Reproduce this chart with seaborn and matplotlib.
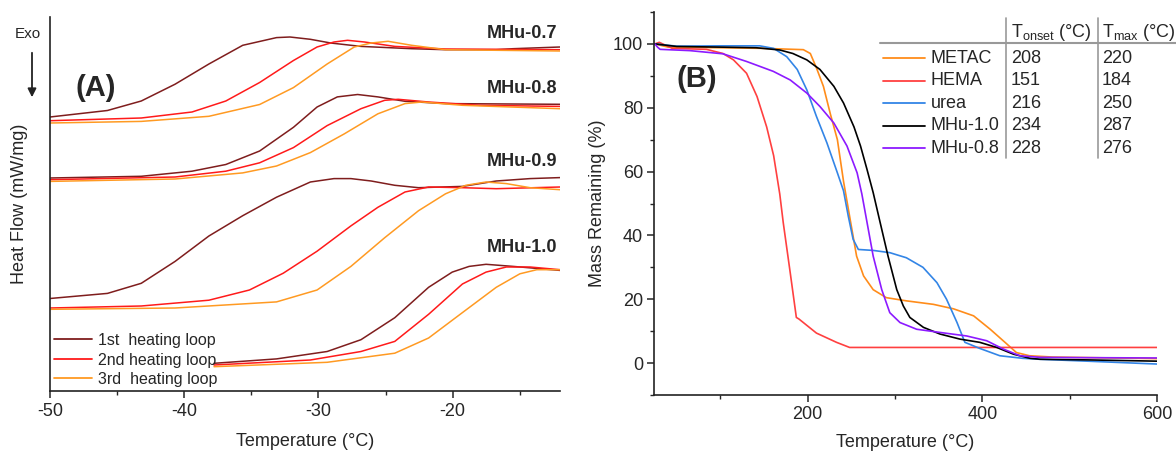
import numpy as np
import matplotlib
matplotlib.use("Agg")
import matplotlib.pyplot as plt
from matplotlib.lines import Line2D
from matplotlib.ticker import MultipleLocator
import seaborn as sns
import pandas as pd

# ---------------- panel A: DSC heating loops (arbitrary heat flow units) ----------------
loops = ["1st  heating loop", "2nd heating loop", "3rd  heating loop"]
loop_colors = ["#7f1d1d", "#ff1a1a", "#ff9a22"]

mhu07_t = [
    [-50, -45.72, -43.2, -40.68, -38.16, -35.64, -33.12, -32.12, -30.6, -29.09, -26.83, -23.05, -20.53, -16.75, -15.49, -12],
    [-50, -43.2, -39.42, -36.9, -34.38, -31.86, -30.1, -28.84, -27.83, -26.57, -24.31, -20.53, -12],
    [-50, -43.2, -38.16, -34.38, -31.86, -29.35, -27.33, -26.07, -24.81, -23.05, -20.53, -12],
]
mhu07_hf = [
    [27.4, 28.05, 29.0, 30.68, 32.7, 34.57, 35.34, 35.4, 35.17, 34.8, 34.46, 34.23, 34.13, 34.13, 34.23, 34.4],
    [27.03, 27.3, 27.9, 29.0, 30.85, 33.05, 34.4, 34.9, 35.07, 34.9, 34.46, 34.2, 34.13],
    [26.8, 26.96, 27.47, 28.65, 30.34, 32.7, 34.4, 34.8, 34.97, 34.57, 34.13, 34.0],
]
mhu08_t = [
    [-50, -43.2, -39.42, -36.9, -34.38, -31.86, -30.1, -28.59, -27.08, -25.57, -23.55, -20.53, -12],
    [-50, -40.68, -36.9, -34.38, -31.86, -29.35, -26.83, -25.06, -24.06, -21.79, -18.01, -12],
    [-50, -40.68, -35.64, -33.12, -30.6, -28.09, -25.57, -23.55, -22.29, -19.27, -12],
]
mhu08_hf = [
    [21.3, 21.47, 21.98, 22.65, 24.0, 26.37, 28.4, 29.41, 29.65, 29.41, 28.97, 28.74, 28.67],
    [21.13, 21.4, 21.98, 22.82, 24.34, 26.54, 28.23, 29.07, 29.17, 28.9, 28.57, 28.46],
    [20.96, 21.2, 21.81, 22.5, 23.84, 25.7, 27.72, 28.74, 28.9, 28.57, 28.23],
]
mhu09_t = [
    [-50, -45.72, -43.2, -40.68, -38.16, -35.64, -33.12, -30.6, -28.84, -27.58, -26.07, -24.31, -22.54, -19.27, -16.75, -14.23, -12],
    [-50, -43.2, -38.16, -35.14, -32.62, -30.1, -27.58, -25.57, -23.55, -21.79, -19.27, -16.75, -12],
    [-50, -40.68, -33.12, -30.1, -27.58, -25.06, -22.54, -20.53, -19.02, -17.51, -16.0, -14.23, -12],
]
mhu09_hf = [
    [9.25, 9.76, 10.77, 12.96, 15.5, 17.53, 19.38, 20.9, 21.24, 21.24, 21.0, 20.57, 20.33, 20.46, 21.0, 21.24, 21.34],
    [8.3, 8.5, 9.08, 10.1, 11.78, 13.98, 16.51, 18.37, 19.9, 20.4, 20.33, 20.23, 20.4],
    [8.17, 8.3, 8.91, 10.1, 12.46, 15.33, 18.03, 19.72, 20.57, 20.9, 20.74, 20.33, 20.13],
]
mhu10_t = [
    [-37.78, -33.12, -29.35, -26.83, -24.31, -21.79, -20.03, -18.77, -17.51, -15.49, -12],
    [-37.78, -30.6, -26.83, -24.31, -21.79, -19.27, -17.51, -16.0, -14.23, -12],
    [-37.78, -29.35, -24.31, -21.79, -19.27, -16.75, -14.99, -13.73, -12],
]
mhu10_hf = [
    [2.77, 3.21, 3.95, 5.13, 7.33, 10.37, 11.89, 12.46, 12.67, 12.46, 12.06],
    [2.6, 3.1, 3.95, 4.96, 7.67, 10.7, 11.89, 12.4, 12.4, 12.13],
    [2.43, 2.87, 3.78, 5.3, 7.84, 10.37, 11.72, 12.13, 12.13],
]
samples = ["MHu-0.7", "MHu-0.8", "MHu-0.9", "MHu-1.0"]
sample_label_y = [35.8, 30.3, 23.0, 14.4]

# ---------------- panel B: TGA ----------------
tga_names = ["METAC", "HEMA", "urea", "MHu-1.0", "MHu-0.8"]
tga_colors = ["#ff8c1a", "#ff4040", "#3385e6", "#000000", "#8c1aff"]
t_onset = [208, 151, 216, 234, 228]
t_max = [220, 184, 250, 287, 276]

metac_t = [25, 40, 100, 150, 195, 203, 210, 218, 226, 234, 241, 248, 256, 264, 275, 290, 313, 344, 367, 390, 409, 428, 439, 454, 480, 550, 600]
metac_m = [100, 99, 98.8, 98.6, 98.2, 97, 92.5, 86.7, 78, 70, 57, 46, 33.5, 27.3, 23, 20.5, 19.5, 18.4, 17, 14.8, 10.6, 6, 3.3, 2.3, 1.9, 1.6, 1.4]
hema_t = [25, 30, 45, 84, 103, 115, 130, 142, 153, 161, 168, 172, 180, 187, 190, 195, 210, 233, 248, 600]
hema_m = [100, 100.5, 98.6, 98.3, 97, 95, 90.8, 83.5, 74, 65, 53, 44, 28.3, 14.3, 13.8, 12.7, 9.4, 6.5, 4.9, 4.9]
urea_t = [25, 50, 100, 145, 161, 176, 188, 199, 210, 222, 234, 241, 246.5, 252, 258, 275, 294, 313, 332, 348, 359, 371, 380, 397, 420, 446, 465, 520, 600]
urea_m = [100, 99.3, 99.4, 99.4, 98.6, 96, 92, 85.6, 77.3, 69, 59.6, 54, 46, 38.8, 35.6, 35.3, 34.6, 33, 30, 25.2, 20, 12.7, 6.5, 4.6, 2.3, 1.5, 1.2, 0.6, -0.3]
mhu10_tga_t = [25, 50, 100, 141, 168, 183, 199, 214, 230, 241, 253, 260.5, 268, 275, 283, 292, 302, 309.5, 317, 332.5, 351.5, 374.5, 397, 416.5, 435.5, 454.6, 466, 520, 600]
mhu10_tga_m = [100, 99.2, 99, 98.8, 98.1, 97, 95, 92, 86.7, 81.5, 74, 68, 60.6, 53.4, 44, 33.5, 23, 17.9, 14.3, 11.2, 9.1, 7.5, 6.5, 4.9, 2.8, 1.5, 1.2, 1.0, 0.6]
mhu08_tga_t = [25, 28, 31, 65, 103, 130, 160.6, 180, 199, 214, 230, 245, 256.6, 262, 268, 275, 284.8, 294, 305.7, 324.8, 351.5, 382, 405, 424, 443, 466, 520, 600]
mhu08_tga_m = [100, 99, 98.3, 97.9, 96.9, 94.5, 91.4, 88.7, 84.6, 80.4, 75.2, 68, 59.6, 53, 44, 33.5, 23, 15.8, 12.7, 10.6, 9.6, 8.5, 7, 4.4, 2.3, 1.8, 1.7, 1.6]

W, H = 1176, 454


def fx(px):
    return px / W


def fy(py):
    return 1 - py / H


sns.set_style("ticks")
plt.rcParams["font.family"] = ["Liberation Sans", "DejaVu Sans"]
plt.rcParams["mathtext.default"] = "regular"
plt.rcParams["axes.unicode_minus"] = False
plt.rcParams["axes.edgecolor"] = "#222222"
plt.rcParams["axes.linewidth"] = 1.2

fig = plt.figure(figsize=(W / 100, H / 100), dpi=100)
ax1 = fig.add_axes([fx(50), fy(391), (560 - 50) / W, (391 - 17) / H])
ax2 = fig.add_axes([fx(654), fy(395), (1157 - 654) / W, (395 - 12) / H])

# ---- panel A
groups = [(mhu07_t, mhu07_hf), (mhu08_t, mhu08_hf), (mhu09_t, mhu09_hf), (mhu10_t, mhu10_hf)]
for ts, hfs in groups:
    for k in range(3):
        sns.lineplot(x=ts[k], y=hfs[k], color=loop_colors[k], lw=1.1, sort=False,
                     estimator=None, ax=ax1)
for name, yy in zip(samples, sample_label_y):
    ax1.text(-12.2, yy, name, ha="right", va="center", fontsize=13, fontweight="bold")

ax1.set_xlim(-50, -12)
ax1.set_ylim(0, 37.4)
ax1.set_yticks([])
ax1.xaxis.set_major_locator(MultipleLocator(10))
ax1.xaxis.set_minor_locator(MultipleLocator(5))
ax1.tick_params(axis="x", which="major", length=5, width=1.1, labelsize=13, pad=4)
ax1.tick_params(axis="x", which="minor", length=3, width=1.0)
ax1.set_xlabel("Temperature (°C)", fontsize=13, labelpad=9)
ax1.set_ylabel("Heat Flow (mW/mg)", fontsize=13)
ax1.yaxis.set_label_coords(-0.043, 0.5)
sns.despine(ax=ax1)
handles = [Line2D([], [], color=c, lw=1.3) for c in loop_colors]
ax1.legend(handles, loops, loc="lower left", bbox_to_anchor=(0, 0), frameon=False,
           fontsize=11.5, handlelength=2.4, handletextpad=0.35, labelspacing=0.28,
           borderaxespad=0.0, borderpad=0.25)
ax1.text(0.05, 0.81, "(A)", transform=ax1.transAxes, fontsize=21, fontweight="bold",
         ha="left", va="center")
fig.text(fx(28), fy(34), "Exo", fontsize=11, ha="center", va="center")
fig.add_artist(matplotlib.patches.FancyArrowPatch(
    (fx(32), fy(50)), (fx(32), fy(100)), transform=fig.transFigure,
    arrowstyle="-|>,head_length=5,head_width=2.5", color="#222222", lw=1.3))

# ---- panel B
tga = [(metac_t, metac_m), (hema_t, hema_m), (urea_t, urea_m),
       (mhu10_tga_t, mhu10_tga_m), (mhu08_tga_t, mhu08_tga_m)]
for (ts, ms), c in zip(tga, tga_colors):
    sns.lineplot(x=ts, y=ms, color=c, lw=1.2, sort=False, estimator=None, ax=ax2)

ax2.set_xlim(24, 600)
ax2.set_ylim(-10, 110)
ax2.set_xticks([200, 400, 600])
ax2.xaxis.set_minor_locator(MultipleLocator(100))
ax2.set_yticks([0, 20, 40, 60, 80, 100])
ax2.yaxis.set_minor_locator(MultipleLocator(10))
ax2.tick_params(which="major", length=5, width=1.1, labelsize=13, pad=3)
ax2.tick_params(which="minor", length=3, width=1.0)
ax2.set_xlabel("Temperature (°C)", fontsize=13, labelpad=8)
ax2.set_ylabel("Mass Remaining (%)", fontsize=13)
ax2.yaxis.set_label_coords(-0.095, 0.5)
sns.despine(ax=ax2)
ax2.text(0.045, 0.825, "(B)", transform=ax2.transAxes, fontsize=21, fontweight="bold",
         ha="left", va="center")

# table-style legend
grey = "#999999"
fig.add_artist(Line2D([fx(880), fx(1176)], [fy(42.5), fy(42.5)], color=grey, lw=1.5))
for vx in (1006, 1098):
    fig.add_artist(Line2D([fx(vx), fx(vx)], [fy(18), fy(158)], color=grey, lw=1.2))
fig.text(fx(1011), fy(37), r"T$_{onset}$ (°C)", fontsize=13, ha="left", va="baseline")
fig.text(fx(1102), fy(37), r"T$_{max}$ (°C)", fontsize=13, ha="left", va="baseline")
row_y = [58.3, 80.7, 103.3, 126, 148.3]
for name, c, on, mx, ry in zip(tga_names, tga_colors, t_onset, t_max, row_y):
    fig.add_artist(Line2D([fx(883), fx(925)], [fy(ry), fy(ry)], color=c, lw=1.3))
    fig.text(fx(931), fy(ry), name, fontsize=13, ha="left", va="center")
    fig.text(fx(1011), fy(ry), str(on), fontsize=13, ha="left", va="center")
    fig.text(fx(1102), fy(ry), str(mx), fontsize=13, ha="left", va="center")

fig.savefig("out.png", dpi=100)
